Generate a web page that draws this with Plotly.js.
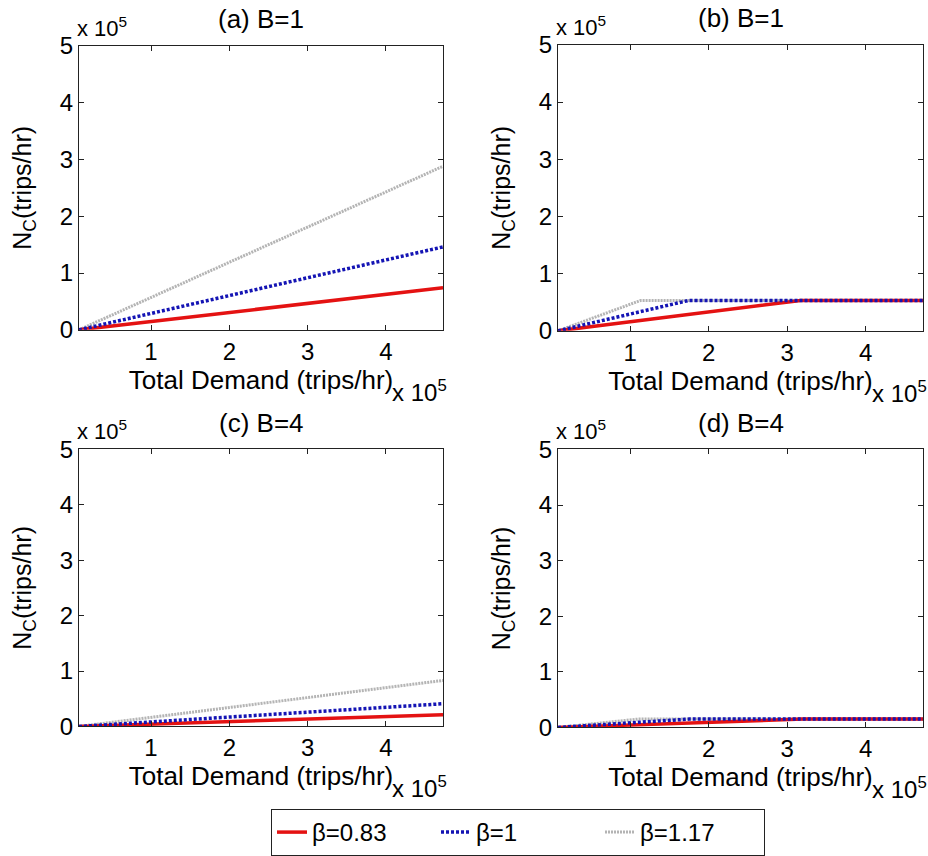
<!DOCTYPE html>
<html>
<head>
<meta charset="utf-8">
<script src="https://cdn.plot.ly/plotly-3.0.1.min.js"></script>
<style>html,body{margin:0;padding:0;background:#fff;}#chart{width:928px;height:856px;}</style>
</head>
<body>
<div id="chart"></div>
<script>
// ---- data (trips/hr) ----
var seriesNames = ["\u03b2=0.83", "\u03b2=1", "\u03b2=1.17"];
var panelTitles = ["(a) B=1", "(b) B=1", "(c) B=4", "(d) B=4"];

// panel (a)
var aDemand = [8000, 473000];
var aBeta083 = [0, 74000];
var aBeta1 = [0, 146000];
var aBeta117 = [0, 288000];

// panel (b)
var bDemand083 = [8000, 317000, 473000];
var bBeta083 = [0, 53000, 53000];
var bDemand1 = [8000, 174000, 473000];
var bBeta1 = [0, 53000, 53000];
var bDemand117 = [8000, 113000, 473000];
var bBeta117 = [0, 53000, 53000];

// panel (c)
var cDemand = [8000, 473000];
var cBeta083 = [0, 21000];
var cBeta1 = [0, 41000];
var cBeta117 = [0, 83000];

// panel (d)
var dDemand083 = [8000, 320000, 473000];
var dBeta083 = [0, 15000, 15000];
var dDemand1 = [8000, 175000, 473000];
var dBeta1 = [0, 15000, 15000];
var dDemand117 = [8000, 110000, 473000];
var dBeta117 = [0, 15000, 15000];

var xTickVals = [100000, 200000, 300000, 400000];
var xTickText = ["1", "2", "3", "4"];
var yTickVals = [0, 100000, 200000, 300000, 400000, 500000];
var yTickText = ["0", "1", "2", "3", "4", "5"];

// ---- styles ----
var FONT = "Liberation Sans, Arial, sans-serif";
var styles = [
  {color: "rgb(228,18,18)", width: 3.5, dash: "solid"},
  {color: "rgb(20,20,180)", width: 3.5, dash: "3px,2px"},
  {color: "rgb(180,180,180)", width: 3, dash: "2px,1px"}
];

var panels = [
  {xs: [aDemand, aDemand, aDemand], ys: [aBeta083, aBeta1, aBeta117]},
  {xs: [bDemand083, bDemand1, bDemand117], ys: [bBeta083, bBeta1, bBeta117]},
  {xs: [cDemand, cDemand, cDemand], ys: [cBeta083, cBeta1, cBeta117]},
  {xs: [dDemand083, dDemand1, dDemand117], ys: [dBeta083, dBeta1, dBeta117]}
];

var W = 928, H = 856;
// pixel boxes of plot areas: [left, right, top, bottom]
var boxes = [[79, 443, 46, 331], [558, 923, 45, 332], [79, 443, 451, 729], [558, 923, 451, 730]];

var traces = [];
var drawOrder = [2, 0, 1];
panels.forEach(function (p, pi) {
  var suffix = pi === 0 ? "" : String(pi + 1);
  drawOrder.forEach(function (si) {
    traces.push({
      type: "scatter", mode: "lines",
      x: p.xs[si], y: p.ys[si],
      xaxis: "x" + suffix, yaxis: "y" + suffix,
      name: seriesNames[si],
      legendrank: si + 1,
      showlegend: pi === 0,
      line: {color: styles[si].color, width: styles[si].width, dash: styles[si].dash},
      hoverinfo: "skip"
    });
  });
});

var layout = {
  width: W, height: H,
  margin: {l: 0, r: 0, t: 0, b: 0},
  paper_bgcolor: "#fff", plot_bgcolor: "#fff",
  font: {family: FONT, size: 24, color: "#000"},
  showlegend: true,
  legend: {
    orientation: "h",
    x: 271 / W, xanchor: "left",
    y: 1 - 812 / H, yanchor: "top",
    bordercolor: "#222", borderwidth: 1, bgcolor: "#fff",
    font: {family: FONT, size: 24, color: "#000"},
    traceorder: "normal",
    entrywidth: 119, entrywidthmode: "pixels"
  },
  annotations: [],
  shapes: []
};

boxes.forEach(function (b, i) {
  var suffix = i === 0 ? "" : String(i + 1);
  var xd = [b[0] / W, b[1] / W];
  var yd = [1 - b[3] / H, 1 - b[2] / H];
  layout["xaxis" + suffix] = {
    domain: xd, anchor: "y" + suffix,
    range: [8000, 473000],
    tickvals: xTickVals, ticktext: xTickText,
    ticks: "inside", ticklen: 5, tickwidth: 1, tickcolor: "#222",
    showline: true, linecolor: "#222", linewidth: 1, mirror: "ticks",
    showgrid: false, zeroline: false,
    tickfont: {family: FONT, size: 24, color: "#000"},
    title: {text: "Total Demand (trips/hr)", font: {family: FONT, size: 26, color: "#000"}, standoff: 1}
  };
  layout["yaxis" + suffix] = {
    domain: yd, anchor: "x" + suffix,
    range: [0, 500000],
    tickvals: yTickVals, ticktext: yTickText,
    ticks: "inside", ticklen: 5, tickwidth: 1, tickcolor: "#222",
    showline: true, linecolor: "#222", linewidth: 1, mirror: "ticks",
    showgrid: false, zeroline: false,
    tickfont: {family: FONT, size: 24, color: "#000"},
    title: {text: "N<sub>C</sub>(trips/hr)", font: {family: FONT, size: 25, color: "#000"}, standoff: 21}
  };
  // panel title
  layout.annotations.push({
    xref: "paper", yref: "paper",
    x: (b[0] + b[1]) / 2 / W, y: 1 - (b[2] - 27) / H,
    xanchor: "center", yanchor: "middle", showarrow: false,
    text: panelTitles[i], font: {family: FONT, size: 26, color: "#000"}
  });
  // y exponent
  layout.annotations.push({
    xref: "paper", yref: "paper",
    x: (b[0] - 4) / W, y: 1 - (b[2] - 3) / H,
    xanchor: "left", yanchor: "bottom", showarrow: false,
    text: "x 10<sup>5</sup>", font: {family: FONT, size: 22, color: "#000"}
  });
  // x exponent
  layout.annotations.push({
    xref: "paper", yref: "paper",
    x: (b[1] + 6) / W, y: 1 - (b[3] + 44) / H,
    xanchor: "right", yanchor: "top", showarrow: false,
    text: "x 10<sup>5</sup>", font: {family: FONT, size: 24, color: "#000"}
  });
});

Plotly.newPlot("chart", traces, layout, {displayModeBar: false, staticPlot: true});
</script>
</body>
</html>
